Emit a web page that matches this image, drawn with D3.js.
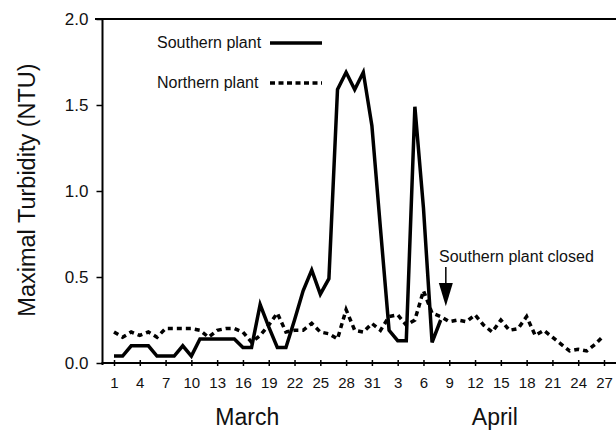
<!DOCTYPE html>
<html>
<head>
<meta charset="utf-8">
<script src="https://cdn.jsdelivr.net/npm/d3@7"></script>
<style>
  body { margin: 0; background: #fff; }
  svg { display: block; font-family: "Liberation Sans", Arial, Helvetica, sans-serif; }
</style>
</head>
<body>
<script>
// days are counted from March 1 (= 1) to April 27 (= 58)
let southernDays = d3.range(1, 40)
let southernValues = [
  0.04, 0.04, 0.10, 0.10, 0.10, 0.04, 0.04, 0.04, 0.10, 0.04,
  0.14, 0.14, 0.14, 0.14, 0.14, 0.09, 0.09, 0.34, 0.21, 0.09,
  0.09, 0.25, 0.42, 0.54, 0.40, 0.49, 1.59, 1.69, 1.59, 1.69,
  1.38, 0.78, 0.19, 0.13, 0.13, 1.49, 0.90, 0.12, 0.25
]

let northernDays = d3.range(1, 59)
let northernValues = [
  0.18, 0.15, 0.18, 0.16, 0.18, 0.15, 0.20, 0.20, 0.20, 0.20,
  0.19, 0.15, 0.19, 0.20, 0.20, 0.18, 0.12, 0.16, 0.22, 0.29,
  0.18, 0.19, 0.19, 0.23, 0.18, 0.17, 0.14, 0.31, 0.19, 0.18,
  0.23, 0.19, 0.27, 0.28, 0.22, 0.25, 0.42, 0.29, 0.27, 0.24,
  0.25, 0.24, 0.28, 0.22, 0.18, 0.25, 0.19, 0.20, 0.27, 0.16,
  0.19, 0.15, 0.11, 0.07, 0.08, 0.07, 0.11, 0.16
]

let xTickDays = [1, 4, 7, 10, 13, 16, 19, 22, 25, 28, 31, 34, 37, 40, 43, 46, 49, 52, 55, 58]
let xTickLabels = ['1', '4', '7', '10', '13', '16', '19', '22', '25', '28', '31',
  '3', '6', '9', '12', '15', '18', '21', '24', '27']
let yTicks = [0, 0.5, 1.0, 1.5, 2.0]

let months = ['March', 'April']
let monthCenterDays = [16.5, 45.3]

let closedDay = 39.6

// measurements
let m = {
  width: 616,
  height: 430,
  left: 102.5,
  right: 616,
  top: 19,
  bottom: 363,
}

let svg = d3.select('body')
  .append('svg')
  .attr('width', m.width)
  .attr('height', m.height)

let xScale = d3.scaleLinear()
  .domain([1, 58])
  .range([114, 604])

let yScale = d3.scaleLinear()
  .domain([0, 2])
  .range([m.bottom, m.top])

// y axis
let yAxis = d3.axisLeft(yScale)
  .tickValues(yTicks)
  .tickFormat(d3.format('.1f'))
  .tickSize(6)
  .tickSizeOuter(0)
  .tickPadding(8)

let yG = svg.append('g')
  .attr('transform', 'translate(' + m.left + ',0)')
  .call(yAxis)
yG.select('.domain').attr('stroke-width', 2).attr('d', 'M0,' + (m.top) + 'V' + (m.bottom + 2))
yG.selectAll('.tick line').attr('stroke-width', 1.5)
yG.selectAll('.tick text')
  .attr('font-size', 17)
  .attr('fill', '#111')
  .attr('font-family', '"Liberation Sans", Arial, sans-serif')

// x axis
let xAxis = d3.axisBottom(xScale)
  .tickValues(xTickDays)
  .tickFormat(function(d, i) { return xTickLabels[i] })
  .tickSize(3)
  .tickSizeOuter(0)
  .tickPadding(11.5)

let xG = svg.append('g')
  .attr('transform', 'translate(0,' + m.bottom + ')')
  .call(xAxis)
xG.select('.domain').remove()
xG.selectAll('.tick line').attr('y1', -3).attr('stroke-width', 1.5)
xG.selectAll('.tick text')
  .attr('font-size', 15)
  .attr('fill', '#111')
  .attr('font-family', '"Liberation Sans", Arial, sans-serif')

// bottom and top frame lines
svg.append('line')
  .attr('x1', m.left - 1).attr('x2', m.right)
  .attr('y1', m.bottom).attr('y2', m.bottom)
  .attr('stroke', '#000').attr('stroke-width', 2)

svg.append('line')
  .attr('x1', 95).attr('x2', m.right)
  .attr('y1', m.top).attr('y2', m.top)
  .attr('stroke', '#000').attr('stroke-width', 2)

// month labels
svg.selectAll('.month')
  .data(months)
  .enter()
  .append('text')
    .attr('class', 'month')
    .attr('x', function(d, i) { return xScale(monthCenterDays[i]) })
    .attr('y', 425)
    .attr('text-anchor', 'middle')
    .attr('font-size', 23)
    .attr('fill', '#111')
    .text(function(d) { return d })

// y axis title
svg.append('text')
  .attr('transform', 'translate(35,' + 190 + ') rotate(-90)')
  .attr('text-anchor', 'middle')
  .attr('font-size', 23.5)
  .attr('fill', '#111')
  .text('Maximal Turbidity (NTU)')

// lines
let line = d3.line()
  .x(function(d) { return xScale(d[0]) })
  .y(function(d) { return yScale(d[1]) })

svg.append('path')
  .datum(d3.zip(northernDays, northernValues))
  .attr('d', line)
  .attr('fill', 'none')
  .attr('stroke', '#000')
  .attr('stroke-width', 3.5)
  .attr('stroke-dasharray', '5,4')

svg.append('path')
  .datum(d3.zip(southernDays, southernValues))
  .attr('d', line)
  .attr('fill', 'none')
  .attr('stroke', '#000')
  .attr('stroke-width', 3.5)
  .attr('stroke-linejoin', 'miter')

// legend
let legend = [
  { label: 'Southern plant', y: 43, dash: null },
  { label: 'Northern plant', y: 83, dash: '5,3.5' },
]

let lg = svg.selectAll('.legend')
  .data(legend)
  .enter()
  .append('g')
    .attr('class', 'legend')

lg.append('text')
  .attr('x', 157)
  .attr('y', function(d) { return d.y + 5 })
  .attr('font-size', 16)
  .attr('fill', '#111')
  .text(function(d) { return d.label })

lg.append('line')
  .attr('x1', 270).attr('x2', 322)
  .attr('y1', function(d) { return d.y })
  .attr('y2', function(d) { return d.y })
  .attr('stroke', '#000')
  .attr('stroke-width', 3.5)
  .attr('stroke-dasharray', function(d) { return d.dash })

// annotation: southern plant closed
let ax = xScale(closedDay)
svg.append('text')
  .attr('x', 439)
  .attr('y', 262)
  .attr('font-size', 16)
  .attr('fill', '#111')
  .text('Southern plant closed')

svg.append('line')
  .attr('x1', ax).attr('x2', ax)
  .attr('y1', 267).attr('y2', 285)
  .attr('stroke', '#000').attr('stroke-width', 1.5)

svg.append('path')
  .attr('d', 'M' + (ax - 7) + ',283 L' + (ax + 7) + ',283 L' + ax + ',' + yScale(0.33) + 'Z')
  .attr('fill', '#000')
</script>
</body>
</html>
